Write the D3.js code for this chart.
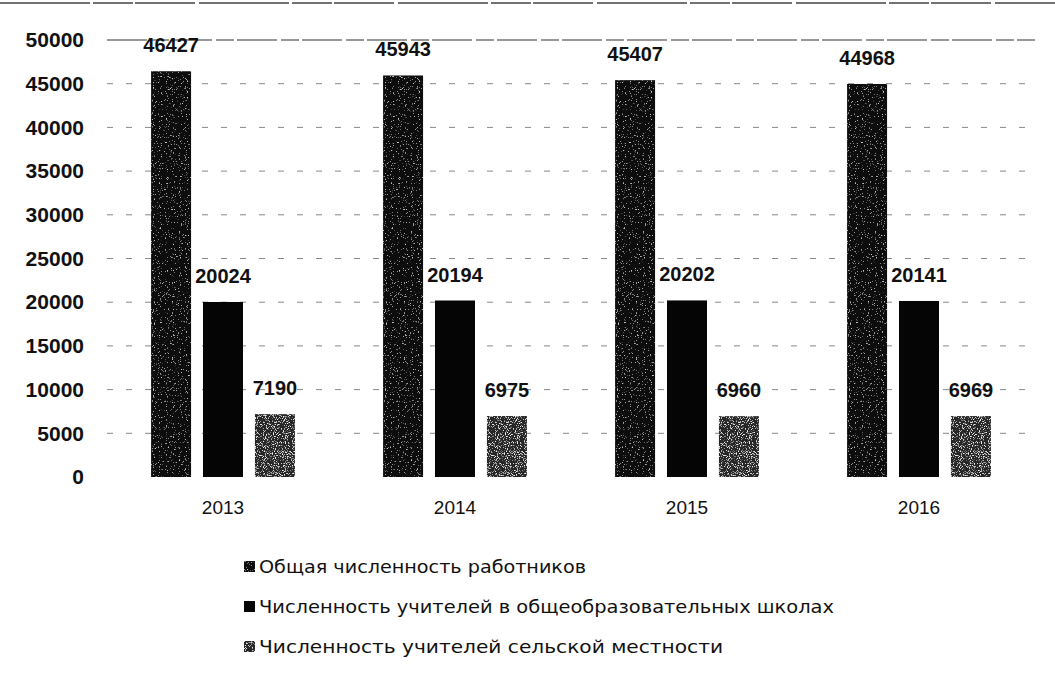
<!DOCTYPE html>
<html><head><meta charset="utf-8">
<script src="https://cdn.jsdelivr.net/npm/d3@7"></script>
<style>
html,body{margin:0;padding:0;background:#fff;}
svg{display:block;}
</style></head>
<body>
<svg id="chart" width="1055" height="680"></svg>
<script>
const years = ["2013", "2014", "2015", "2016"];
const seriesNames = [
  "Общая численность работников",
  "Численность учителей в общеобразовательных школах",
  "Численность учителей сельской местности"
];
const totalWorkers = [46427, 45943, 45407, 44968];
const schoolTeachers = [20024, 20194, 20202, 20141];
const ruralTeachers = [7190, 6975, 6960, 6969];
const yTicks = [0, 5000, 10000, 15000, 20000, 25000, 30000, 35000, 40000, 45000, 50000];

const seriesValues = [totalWorkers, schoolTeachers, ruralTeachers];
const svg = d3.select("#chart");
const defs = svg.append("defs");

function speckle(id, seed, freq, thresh, grey) {
  const f = defs.append("filter").attr("id", id)
    .attr("x", 0).attr("y", 0).attr("width", 1).attr("height", 1);
  f.append("feTurbulence").attr("type", "fractalNoise")
    .attr("baseFrequency", freq).attr("numOctaves", 2).attr("seed", seed).attr("result", "noise");
  f.append("feColorMatrix").attr("in", "noise").attr("type", "matrix")
    .attr("values", `0 0 0 0 ${grey}  0 0 0 0 ${grey}  0 0 0 0 ${grey}  6 0 0 0 ${-6*thresh}`).attr("result", "dots");
  f.append("feComposite").attr("in", "dots").attr("in2", "SourceGraphic").attr("operator", "in").attr("result", "d2");
  const m = f.append("feMerge");
  m.append("feMergeNode").attr("in", "SourceGraphic");
  m.append("feMergeNode").attr("in", "d2");
}
speckle("sp1", 4, 0.85, 0.64, 0.6);
speckle("sp3", 9, 0.9, 0.55, 0.85);

const seriesFill = ["#111111", "#050505", "#262626"];
const seriesFilter = ["url(#sp1)", null, "url(#sp3)"];

const x0 = d3.scaleBand().domain(years).range([107, 1035]).paddingInner(0.38).paddingOuter(0.19);
const x1 = d3.scaleBand().domain([0, 1, 2]).range([0, x0.bandwidth()]).paddingInner(0.23);
const y = d3.scaleLinear().domain([0, 50000]).range([477, 40]);

// top border
svg.append("line").attr("x1", 0).attr("x2", 1055).attr("y1", 3).attr("y2", 3)
  .attr("stroke", "#444").attr("stroke-width", 1.3).attr("stroke-dasharray", "90,3,40,2,60,4");

// gridlines
const grid = svg.append("g");
yTicks.filter(t => t > 0).forEach(t => {
  grid.append("line").attr("x1", 107).attr("x2", 1035).attr("y1", y(t)).attr("y2", y(t))
    .attr("stroke", t === 50000 ? "#333" : "#888")
    .attr("stroke-width", t === 50000 ? 1.2 : 1)
    .attr("stroke-dasharray", t === 50000 ? "40,4,18,3" : "6,13");
});

// y axis labels
const yAxis = d3.axisLeft(y).tickValues(yTicks).tickSize(0).tickPadding(0).tickFormat(d3.format("d"));
const ya = svg.append("g").attr("transform", "translate(84,0)").call(yAxis);
ya.select(".domain").remove();
ya.selectAll("text").attr("font-family", "Liberation Sans, Arial, sans-serif")
  .attr("font-size", 21).attr("font-weight", "bold").attr("fill", "#111");

// bars
const groups = svg.append("g").selectAll("g").data(years).join("g")
  .attr("transform", d => `translate(${x0(d)},0)`);
groups.each(function(yr, i) {
  const g = d3.select(this);
  seriesValues.forEach((vals, s) => {
    const r = g.append("rect").attr("x", x1(s)).attr("width", x1.bandwidth())
      .attr("y", y(vals[i])).attr("height", y(0) - y(vals[i]))
      .attr("fill", seriesFill[s]);
    if (seriesFilter[s]) r.attr("filter", seriesFilter[s]);
    g.append("text").attr("x", x1(s) + x1.bandwidth() / 2).attr("y", y(vals[i]) - 19)
      .attr("text-anchor", "middle").attr("font-family", "Liberation Sans, Arial, sans-serif")
      .attr("font-size", 20).attr("font-weight", "bold").attr("fill", "#111")
      .text(vals[i]);
  });
});

// x axis labels
const xAxis = d3.axisBottom(x0).tickSize(0).tickPadding(0);
const xa = svg.append("g").attr("transform", "translate(0,497)").call(xAxis);
xa.select(".domain").remove();
xa.selectAll("text").attr("font-family", "Liberation Sans, Arial, sans-serif")
  .attr("font-size", 19).attr("fill", "#111").attr("dy", "0.9em");

// legend
const legendWidths = [327, 575, 464];
const leg = svg.append("g");
seriesNames.forEach((n, s) => {
  const cy = 567 + s * 40;
  const r = leg.append("rect").attr("x", 244).attr("y", cy - 6).attr("width", 11).attr("height", 11)
    .attr("fill", seriesFill[s]);
  if (seriesFilter[s]) r.attr("filter", seriesFilter[s]);
  leg.append("text").attr("x", 259).attr("y", cy).attr("dy", "0.35em")
    .attr("font-family", "DejaVu Sans Condensed, DejaVu Sans, sans-serif")
    .attr("font-size", 18).attr("fill", "#111")
    .attr("textLength", legendWidths[s]).attr("lengthAdjust", "spacingAndGlyphs")
    .text(n);
});
</script>
</body></html>
